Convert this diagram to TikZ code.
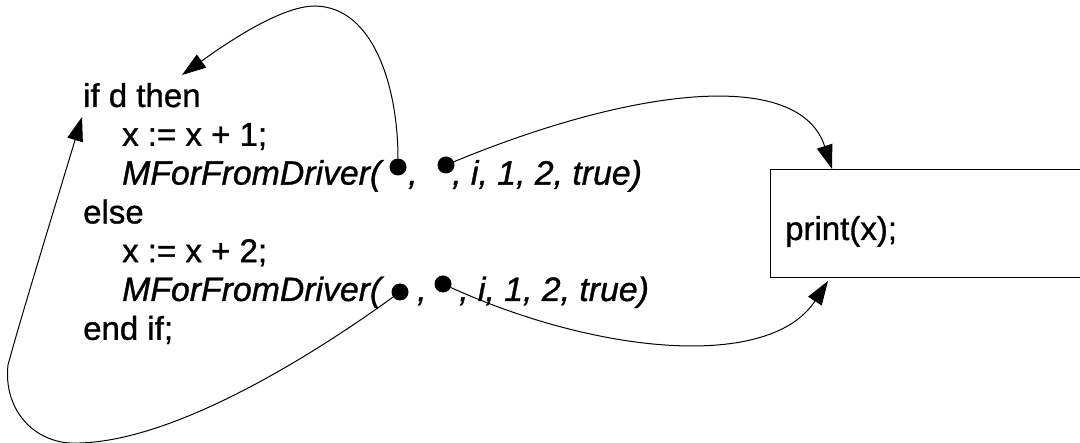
\documentclass[tikz,border=0pt]{standalone}
\usepackage{fontspec}
\setmainfont{Liberation Sans}
\newfontface\upface{Liberation Sans}[FakeBold=1]
\newfontface\itface{Liberation Sans Italic}[FakeBold=1]
\usetikzlibrary{arrows.meta,calc}
\begin{document}
\begin{tikzpicture}[x=1pt,y=-1pt,
  txt/.style={inner sep=0pt, anchor=base west, font=\upface\fontsize{33}{39}\selectfont},
  itx/.style={inner sep=0pt, anchor=base west, font=\itface\fontsize{33.8}{39}\selectfont},
  blob/.style={circle, fill=black, inner sep=0pt, minimum size=17pt},
  conn/.style={line width=1pt, -{Triangle[length=24pt,width=16pt]}},
  ]
\useasboundingbox (0,0) rectangle (1080,443);
\clip (0,0) rectangle (1080,443);

% code lines
\node[txt] (ifd)  at (83,107)   {if d then};
\node[txt] (inc1) at (122,145.8) {x := x + 1;};
\node[itx] (mf1)  at (122,184.6) {MForFromDriver(};
\node[blob] (d1)  at (398,167) {};
\node[itx] (c1)   at (408,184.6) {,};
\node[blob] (d2)  at (446,165) {};
\node[itx] (r1)   at (452,184.6) {, i, 1, 2, true)};
\node[txt] (els)  at (83,223.4) {else};
\node[txt] (inc2) at (122,262.2) {x := x + 2;};
\node[itx] (mf2)  at (122,301) {MForFromDriver(};
\node[blob] (d3)  at (400,292) {};
\node[itx] (c2)   at (417,301) {,};
\node[blob] (d4)  at (443,284) {};
\node[itx] (r2)   at (459,301) {, i, 1, 2, true)};
\node[txt] (eif)  at (83,339.8) {end if;};

% print box
\node[draw, line width=1pt, anchor=north west, inner sep=0pt,
      minimum width=340pt, minimum height=108pt] (box) at (770,169) {};
\node[txt] (pr) at (785,240) {print(x);};

% arrow end points
\coordinate (t1) at (182,75);
\coordinate (t2) at ($(box.north west)+(62,0)$);
\coordinate (t3) at (82,117);
\coordinate (t4) at ($(box.south west)+(58,3)$);

% connectors
\draw[conn] (d1) .. controls (398,90) and (375,7) .. (315,6)
                 .. controls (280,6) and (224,45) .. (t1);
\draw[conn] (d2) .. controls (640,85) and (800,70) .. (t2);
\draw[conn] (d3) .. controls (320,350) and (180,440) .. (80,443)
                 .. controls (35,446) and (3,410) .. (8,365)
                 .. controls (20,320) and (60,190) .. (t3);
\draw[conn] (d4) .. controls (600,355) and (770,370) .. (t4);
\end{tikzpicture}
\end{document}
